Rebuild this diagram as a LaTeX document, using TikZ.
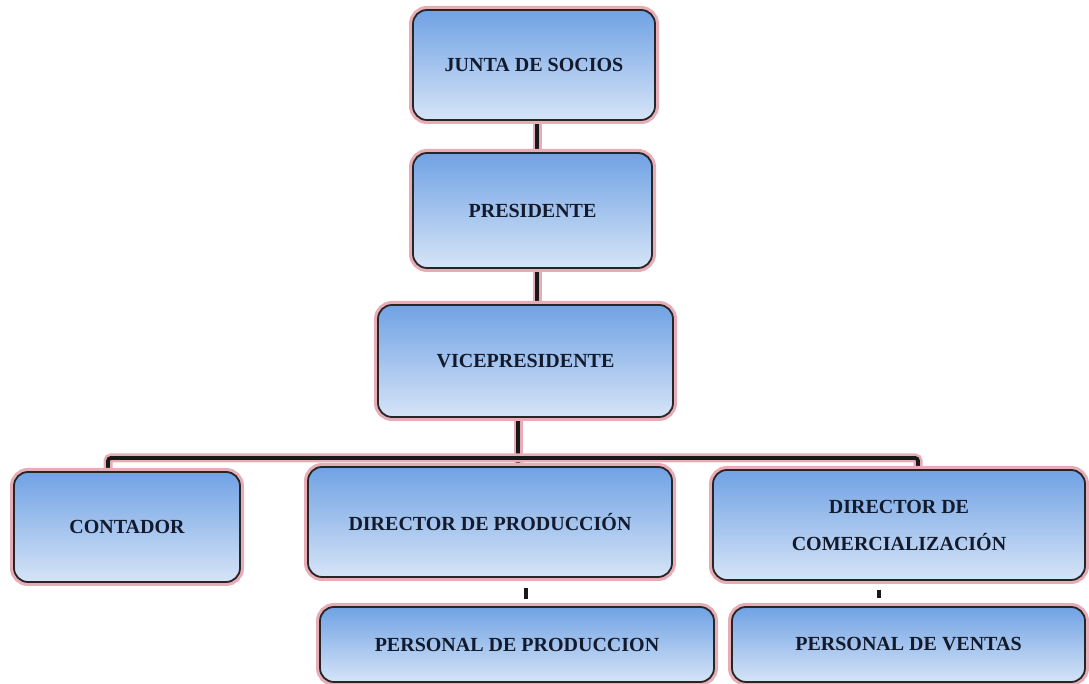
\documentclass[tikz,border=0pt]{standalone}
\usepackage{fontspec}
\setmainfont{Liberation Serif}
\usetikzlibrary{backgrounds}
\definecolor{boxtop}{RGB}{112,162,228}
\definecolor{boxbot}{RGB}{214,228,247}
\definecolor{glow}{RGB}{232,172,182}
\definecolor{ink}{RGB}{18,26,44}
\begin{document}
\begin{tikzpicture}[x=1pt,y=1pt,
  box/.style={rounded corners=14pt, draw=black!85, line width=1.8pt,
    top color=boxtop, bottom color=boxbot,
    preaction={draw=glow, line width=8pt, rounded corners=14pt},
    font=\fontsize{20}{37}\selectfont\bfseries, text=ink, align=center,
    inner sep=0pt},
  link/.style={line width=3.8pt, draw=black!90, preaction={draw=glow, line width=9pt}},
  tick/.style={line width=3.5pt, draw=black!90}]
\useasboundingbox (0,0) rectangle (1089,684);
\clip (0,0) rectangle (1089,684);
\coordinate (bl) at (108,226);
\coordinate (bm) at (518,226);
\coordinate (br) at (918,226);
\coordinate (t1a) at (526,96);
\coordinate (t1b) at (526,85);
\coordinate (t2a) at (879,94);
\coordinate (t2b) at (879,86);
\node[box, minimum width=242pt, minimum height=110pt] (junta) at (534,619) {JUNTA DE SOCIOS};
\node[box, minimum width=239pt, minimum height=115pt] (pres) at (532.5,473.5) {PRESIDENTE};
\node[box, minimum width=295pt, minimum height=112pt] (vice) at (525.5,323) {VICEPRESIDENTE};
\node[box, minimum width=226pt, minimum height=110pt] (cont) at (127,157) {CONTADOR};
\node[box, minimum width=364pt, minimum height=110pt] (dprod) at (490,162) {DIRECTOR DE PRODUCCIÓN};
\node[box, minimum width=372pt, minimum height=110pt] (dcom) at (899,159) {DIRECTOR DE\\COMERCIALIZACIÓN};
\node[box, minimum width=394pt, minimum height=75pt] (pprod) at (517,39.5) {PERSONAL DE PRODUCCION};
\node[box, minimum width=353pt, minimum height=75pt] (pvent) at (908.5,39.5) {PERSONAL DE VENTAS};
\begin{scope}[on background layer]
\draw[link] (junta.south -| 537,0) -- (pres.north -| 537,0);
\draw[link] (pres.south -| 537,0) -- (vice.north -| 537,0);
\draw[link] (vice.south -| bm) -- (dprod.north -| bm);
\draw[link, rounded corners=3pt] (cont.north -| bl) -- (bl) -- (br) -- (dcom.north -| br);
\draw[tick] (t1a) -- (t1b);
\draw[tick] (t2a) -- (t2b);
\end{scope}
\end{tikzpicture}
\end{document}
